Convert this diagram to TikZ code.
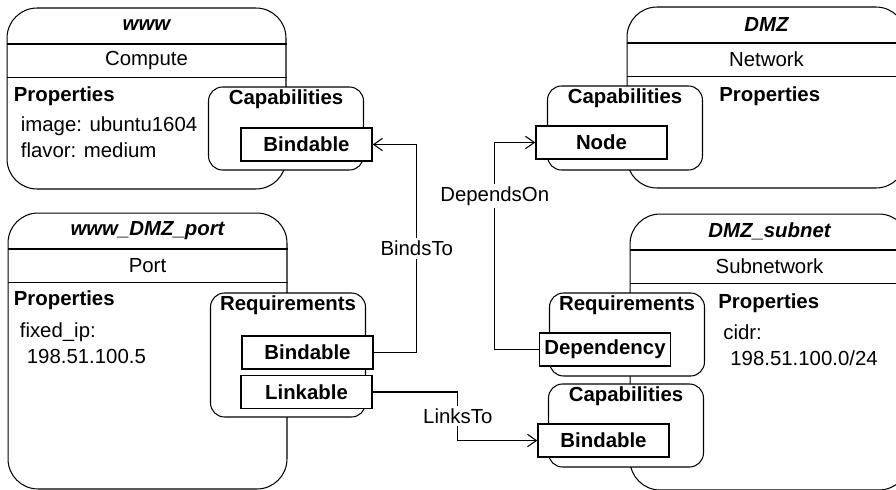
\documentclass[tikz,border=0pt]{standalone}
\usepackage{fontspec}
\setmainfont{Liberation Sans}
\usetikzlibrary{arrows.meta}

\begin{document}
\begin{tikzpicture}[
  x=0.02cm, y=-0.02cm,
  font=\fontsize{11.6}{14.7}\selectfont,
  entity/.style={
    draw,
    fill=white,
    rounded corners=0.6cm,
    minimum width=5.58cm,
    line width=0.6pt
  },
  group/.style={
    draw,
    fill=white,
    rounded corners=0.28cm,
    minimum width=3.1cm,
    line width=0.6pt
  },
  item/.style={
    draw,
    fill=white,
    minimum width=2.62cm,
    minimum height=0.66cm,
    inner sep=0pt,
    line width=0.9pt,
    font=\fontsize{11.6}{14.7}\selectfont\bfseries
  },
  title/.style={inner sep=0pt, font=\fontsize{11.6}{14.7}\selectfont\bfseries\itshape},
  heading/.style={inner sep=0pt, font=\fontsize{11.6}{14.7}\selectfont\bfseries},
  txt/.style={inner sep=0pt, align=left},
  link/.style={line width=0.6pt, -{Straight Barb[length=5pt,width=7pt]}},
  lbl/.style={fill=white, inner sep=1.5pt}
]
  \useasboundingbox (0,0) rectangle (896,490);
  \clip (0,0) rectangle (896,490);

  \node[entity, minimum height=3.62cm] (www) at (146.5,98.5) {};
  \node[entity, minimum height=3.62cm] (dmz) at (766.5,97.5) {};
  \node[entity, minimum height=5.52cm] (wwwport) at (147.5,351) {};
  \node[entity, minimum height=5.52cm] (subnet) at (769.5,352) {};

  \foreach \e in {www,dmz,wwwport,subnet}{
    \draw[line width=0.6pt] ([yshift=-0.73cm]\e.north west) -- ([yshift=-0.73cm]\e.north east);
    \draw[line width=0.6pt] ([yshift=-1.4cm]\e.north west) -- ([yshift=-1.4cm]\e.north east);
  }

  \node[title] (wwwname) at ([yshift=-0.36cm]www.north) {www};
  \node[txt] (wwwtype) at ([yshift=-1.06cm]www.north) {Compute};
  \node[title] (dmzname) at ([yshift=-0.36cm]dmz.north) {DMZ};
  \node[txt] (dmztype) at ([yshift=-1.06cm]dmz.north) {Network};
  \node[title] (portname) at ([yshift=-0.36cm]wwwport.north) {www\_DMZ\_port};
  \node[txt] (porttype) at ([yshift=-1.06cm]wwwport.north) {Port};
  \node[title] (subname) at ([yshift=-0.36cm]subnet.north) {DMZ\_subnet};
  \node[txt] (subtype) at ([yshift=-1.06cm]subnet.north) {Subnetwork};

  \node[heading, anchor=west] (wwwprops) at (13.5,96) {Properties};
  \node[txt, anchor=west] (wwwvals) at (20.5,137) {image: ubuntu1604\\flavor: medium};
  \node[heading, anchor=west] (dmzprops) at (719,96) {Properties};
  \node[heading, anchor=west] (portprops) at (13.5,300) {Properties};
  \node[txt, anchor=west] (portvals) at (19.5,343) {fixed\_ip:\\\hspace*{0.14cm}198.51.100.5};
  \node[heading, anchor=west] (subprops) at (718,303) {Properties};
  \node[txt, anchor=west] (subvals) at (723,345) {cidr:\\\hspace*{0.14cm}198.51.100.0/24};

  \node[group, minimum height=1.66cm] (wwwcaps) at (286,128.5) {};
  \node[heading] (wwwcapsname) at ([yshift=-0.26cm]wwwcaps.north) {Capabilities};
  \node[group, minimum height=1.68cm] (dmzcaps) at (625,128) {};
  \node[heading] (dmzcapsname) at ([yshift=-0.26cm]dmzcaps.north) {Capabilities};
  \node[group, minimum height=2.48cm] (portreqs) at (288,355) {};
  \node[heading] (portreqsname) at ([yshift=-0.26cm]portreqs.north) {Requirements};
  \node[group, minimum height=1.66cm] (subreqs) at (627,334.5) {};
  \node[heading] (subreqsname) at ([yshift=-0.26cm]subreqs.north) {Requirements};
  \node[group, minimum height=1.66cm] (subcaps) at (626,425.5) {};
  \node[heading] (subcapsname) at ([yshift=-0.26cm]subcaps.north) {Capabilities};

  \node[item] (wwwbind) at (306.5,144.5) {Bindable};
  \node[item] (dmznode) at (601.5,142.5) {Node};
  \node[item] (portbind) at (307.5,352.5) {Bindable};
  \node[item] (portlink) at (306.5,392) {Linkable};
  \node[item] (subdep) at (605,349.5) {Dependency};
  \node[item] (subbind) at (603.5,440.5) {Bindable};

  \draw[link] (portbind.east) -- ++(43,0) |- node[lbl, pos=0.25] (bindsto) {BindsTo} (wwwbind.east);
  \draw[link] (subdep.west) -- ++(-44,0) |- node[lbl, pos=0.37] (dependson) {DependsOn} (dmznode.west);
  \draw[link] (portlink.east) -- ++(85,0) |- node[lbl, pos=0.25] (linksto) {LinksTo} (subbind.west);
\end{tikzpicture}
\end{document}
